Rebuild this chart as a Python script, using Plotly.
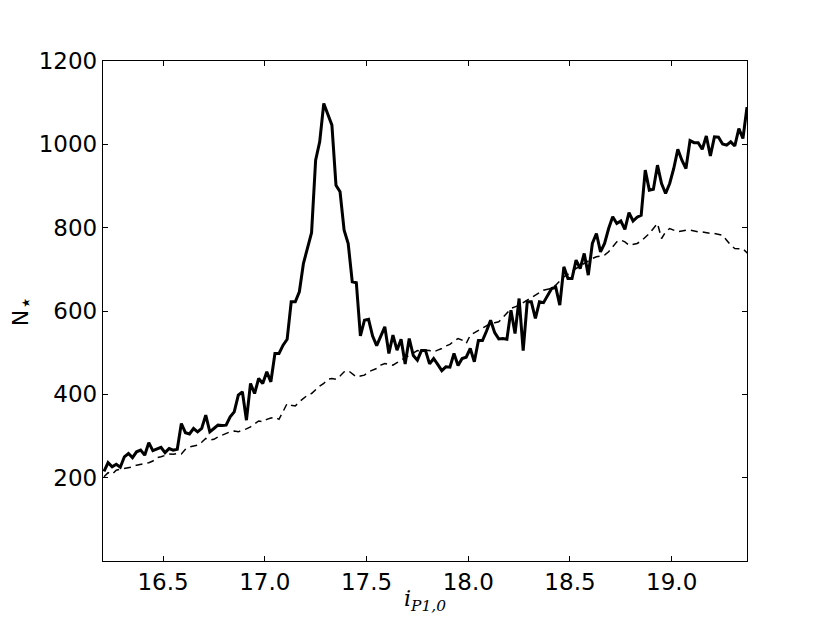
import numpy as np
import plotly.graph_objects as go

# bin centres of the magnitude histogram
x_start = 16.21
bin_width = 0.02

# observed counts (solid line)
n_obs = [
    215, 236, 226, 232, 225, 250, 258, 248, 262, 266,
    254, 284, 265, 270, 273, 260, 270, 266, 268, 330,
    308, 305, 318, 310, 318, 350, 310, 318, 326, 325,
    326, 346, 358, 398, 406, 338, 426, 402, 438, 426,
    454, 430, 498, 498, 518, 532, 622, 622, 646, 714,
    750, 788, 962, 1006, 1098, 1072, 1046, 902, 886, 794,
    762, 670, 668, 540, 578, 580, 540, 517, 540, 562,
    498, 542, 506, 532, 473, 534, 493, 482, 505, 505,
    473, 486, 472, 457, 466, 465, 498, 469, 486, 489,
    510, 478, 529, 529, 552, 578, 548, 533, 534, 532,
    602, 546, 630, 505, 622, 622, 582, 622, 620, 638,
    654, 657, 614, 706, 678, 678, 722, 702, 738, 686,
    762, 786, 742, 762, 798, 826, 810, 816, 796, 836,
    816, 825, 830, 938, 890, 892, 950, 906, 882, 906,
    942, 988, 962, 942, 1009, 1004, 1004, 988, 1020, 972,
    1018, 1017, 1001, 998, 1006, 996, 1038, 1014, 1089, 1062,
]

# model / background counts (dashed line)
n_model = [
    202, 212, 208, 218, 220, 222, 225, 226, 230, 232,
    233, 236, 240, 248, 250, 254, 257, 256, 258, 257,
    268, 274, 276, 278, 285, 294, 290, 292, 298, 302,
    306, 310, 312, 310, 314, 317, 322, 330, 336, 334,
    340, 343, 345, 340, 360, 378, 374, 372, 382, 390,
    398, 402, 412, 420, 426, 436, 438, 436, 444, 454,
    457, 450, 442, 444, 446, 454, 458, 462, 470, 474,
    472, 470, 476, 482, 486, 492, 498, 505, 504, 506,
    505, 502, 506, 510, 516, 520, 528, 534, 530, 522,
    542, 548, 552, 560, 566, 570, 572, 574, 584, 594,
    606, 610, 614, 620, 626, 632, 640, 646, 650, 652,
    654, 662, 672, 682, 688, 696, 702, 708, 714, 722,
    726, 730, 732, 734, 742, 754, 766, 770, 766, 758,
    760, 762, 768, 776, 786, 798, 810, 774, 790, 798,
    794, 790, 792, 794, 794, 792, 790, 790, 788, 786,
    786, 784, 782, 770, 758, 750, 750, 749, 740, 726,
]

x_ticks = [16.5, 17.0, 17.5, 18.0, 18.5, 19.0]
y_ticks = [200, 400, 600, 800, 1000, 1200]

x = np.round(x_start + bin_width * np.arange(len(n_obs)), 3)

fig = go.Figure()
fig.add_trace(go.Scatter(x=x, y=n_model, mode='lines',
                         line=dict(color='black', width=1.5, dash='7px,5px')))
fig.add_trace(go.Scatter(x=x, y=n_obs, mode='lines',
                         line=dict(color='black', width=3)))

axis_style = dict(
    showline=True, linecolor='black', linewidth=1.3, mirror='ticks',
    ticks='inside', ticklen=5, tickcolor='black', tickwidth=1,
    showgrid=False, zeroline=False, automargin=False,
    tickfont=dict(family='DejaVu Sans', size=23, color='black'),
)

# the page body has an 8px margin all round, so keep the figure inside the window
fig.update_layout(
    width=814, height=607,
    paper_bgcolor='white', plot_bgcolor='white',
    margin=dict(l=95, r=75, t=53, b=54),
    showlegend=False,
    xaxis=dict(range=[16.205, 19.37], tickvals=x_ticks,
               ticktext=[f"{v:.1f}" for v in x_ticks],
               title=dict(text="<i>i</i><sub><i>P1,0</i></sub>", standoff=2,
                          font=dict(family='DejaVu Serif', size=22, color='black')),
               **axis_style),
    yaxis=dict(range=[0, 1200], tickvals=y_ticks,
               title=dict(text="N<sub><span style='font-size:22px'>⋆</span></sub>",
                          standoff=6,
                          font=dict(family='DejaVu Sans', size=22, color='black')),
               **axis_style),
)

fig.write_html("out.html")
